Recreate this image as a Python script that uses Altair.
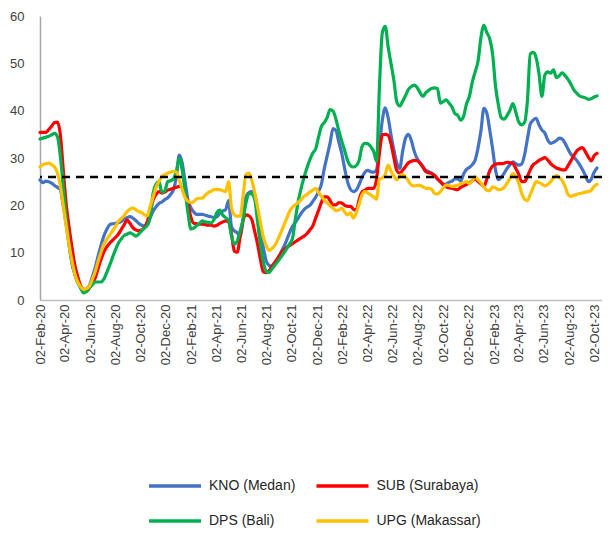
import altair as alt
import pandas as pd

start_date = "2020-02-02"
series_names = ["KNO (Medan)", "SUB (Surabaya)", "DPS (Bali)", "UPG (Makassar)"]
series_colors = ["#4472C4", "#FF0000", "#00B050", "#FFC000"]

kno = [
    25.4, 24.8, 25.1, 25.0, 24.7, 24.2, 23.8, 23.3, 20.0, 16.0,
    11.8, 7.8, 5.5, 3.7, 2.8, 2.2, 2.4, 3.0, 4.8, 6.8,
    9.2, 11.5, 13.5, 14.9, 15.9, 16.1, 16.2, 16.3, 16.6, 17.1,
    17.4, 17.6, 17.3, 16.8, 16.2, 15.8, 15.6, 16.3, 17.4, 18.8,
    19.7, 20.4, 20.7, 21.2, 21.6, 22.3, 23.3, 26.0, 30.6, 29.0,
    25.0, 21.2, 19.5, 18.6, 18.1, 18.1, 18.1, 17.9, 17.7, 17.6,
    17.4, 17.6, 18.3, 18.8, 19.1, 21.0, 15.5, 14.6, 14.2, 13.5,
    17.0, 21.8, 22.7, 22.9, 22.2, 19.0, 14.0, 11.0, 8.2, 7.3,
    6.9, 7.9, 8.8, 10.0, 11.2, 12.6, 14.2, 15.5, 16.4, 17.3,
    18.3, 19.1, 19.6, 20.0, 20.8, 21.7, 22.9, 24.5, 27.8, 30.5,
    33.2, 36.2, 35.8, 33.4, 31.0, 27.8, 25.0, 23.4, 22.9, 23.2,
    24.4, 25.9, 27.0, 27.4, 27.1, 27.0, 27.5, 32.5, 38.0, 40.6,
    38.5, 34.8, 31.6, 28.9, 27.8, 31.4, 34.2, 35.0, 33.7, 31.4,
    29.9, 29.0, 28.2, 27.4, 27.1, 26.8, 26.3, 25.6, 25.0, 24.4,
    24.5, 24.9, 25.1, 25.6, 25.6, 25.1, 26.6, 27.6, 28.0, 28.6,
    29.6, 32.2, 35.8, 40.5, 39.5, 36.0, 32.0, 27.5, 25.4, 25.9,
    26.8, 27.8, 28.6, 29.2, 28.8, 28.5, 28.7, 30.6, 34.0, 37.2,
    38.0, 38.4, 37.0, 35.9, 35.3, 33.8, 33.1, 33.3, 33.7, 34.2,
    34.0, 33.1, 31.9, 30.8, 30.2, 29.5, 28.6, 27.5, 26.3, 25.0,
    25.5, 27.0, 27.9,
]

sub = [
    35.4, 35.4, 35.4, 36.0, 36.7, 37.5, 37.6, 35.0, 27.6, 20.4,
    15.5, 11.2, 7.4, 5.0, 3.0, 2.1, 1.8, 2.5, 3.5, 4.6,
    6.6, 8.5, 10.1, 11.2, 12.0, 12.6, 13.2, 13.9, 14.9, 15.9,
    16.9, 16.2, 15.3, 14.8, 14.6, 14.8, 15.3, 16.6, 18.8, 21.2,
    22.3, 22.9, 22.6, 22.8, 23.2, 23.4, 23.6, 23.8, 24.0, 23.7,
    22.2, 20.4, 17.5, 16.2, 16.1, 16.0, 16.0, 15.9, 15.8, 15.8,
    15.6, 15.8, 16.2, 16.5, 16.7, 16.5, 14.0, 10.3, 10.1, 13.5,
    16.8, 18.0, 17.8, 17.0, 14.5, 11.8, 8.5, 5.9, 5.8, 6.2,
    7.2, 8.0, 8.9, 9.8, 10.6, 11.1, 11.5, 11.9, 12.3, 12.7,
    13.1, 13.5, 14.0, 14.8, 15.6, 17.3, 18.9, 20.6, 21.8, 21.8,
    21.0, 20.1, 20.1, 20.6, 20.5, 20.0, 19.8, 19.8, 19.2, 19.0,
    21.2, 22.8, 23.2, 23.6, 23.6, 23.6, 25.5, 31.0, 34.9, 35.0,
    34.8, 33.0, 30.0, 27.3, 26.8, 27.4, 28.2, 29.0, 29.3, 29.5,
    29.4, 28.9, 28.0, 27.1, 26.9, 26.7, 26.3, 25.6, 25.0, 24.4,
    23.9, 23.7, 23.6, 23.4, 23.3, 23.8, 24.1, 24.4, 24.7, 25.2,
    25.6, 25.0, 24.5, 24.1, 25.5, 27.3, 28.3, 28.7, 28.8, 28.8,
    28.9, 29.1, 29.0, 28.8, 27.8, 26.6, 25.0, 25.0, 26.1, 27.5,
    28.6, 29.0, 29.5, 29.8, 30.1, 29.6, 28.8, 28.3, 27.9, 27.7,
    27.5, 27.5, 28.4, 29.4, 30.5, 31.5, 32.0, 32.2, 31.3, 30.2,
    29.4, 30.5, 31.0,
]

dps = [
    34.0, 34.2, 34.4, 34.6, 34.9, 35.2, 34.5, 30.5, 24.0, 17.5,
    12.0, 8.0, 5.5, 3.7, 2.5, 1.5, 1.8, 2.6, 3.2, 3.8,
    3.8, 3.8, 4.4, 5.8, 7.3, 9.0, 10.6, 12.0, 12.9, 13.6,
    13.9, 14.2, 13.9, 13.5, 13.9, 14.6, 15.2, 15.8, 17.5, 22.6,
    24.5, 25.0, 22.8, 23.0, 25.0, 25.2, 25.6, 27.2, 29.9, 27.5,
    23.0, 18.5, 15.0, 15.2, 15.7, 16.2, 16.7, 16.5, 16.4, 16.3,
    17.0, 18.5, 19.0, 17.9, 17.4, 16.8, 13.5, 11.8, 12.5, 14.6,
    17.0, 20.5, 22.5, 22.4, 21.3, 16.5, 11.6, 8.0, 6.0, 5.8,
    6.6, 7.4, 8.2, 9.0, 9.9, 10.8, 11.8, 12.9, 17.0, 20.8,
    23.6, 25.9, 27.9, 29.6, 31.0, 31.9, 34.4, 36.7, 37.5, 38.6,
    40.2, 39.9, 38.2, 35.8, 33.6, 31.6, 29.5, 28.4, 28.1, 28.4,
    29.5, 32.4, 33.1, 33.0, 32.4, 31.4, 29.3, 45.0, 56.5, 57.8,
    53.5, 49.9, 46.3, 41.8, 41.0, 42.0, 43.2, 44.5, 45.1, 45.4,
    44.9, 43.8, 43.0, 43.8, 44.3, 44.7, 44.8, 44.7, 41.6, 41.9,
    42.3, 41.6, 40.8, 39.4, 39.0, 38.0, 38.8, 41.4, 43.0, 46.0,
    48.2, 50.5, 55.5, 58.0, 56.5, 55.2, 52.0, 45.2, 41.2, 38.5,
    38.2, 39.0, 40.1, 41.5, 39.7, 37.6, 37.0, 37.5, 42.0, 52.0,
    52.3, 51.2, 47.8, 43.0, 47.5, 48.2, 47.9, 48.6, 47.0, 47.4,
    48.0, 47.4, 46.6, 45.6, 44.4, 43.7, 43.1, 42.9, 42.7, 42.4,
    42.5, 42.9, 43.1,
]

upg = [
    28.1, 28.6, 28.8, 28.9, 28.6, 28.1, 26.9, 24.2, 20.0, 15.8,
    11.8, 8.3, 5.5, 3.8, 2.8, 2.2, 2.4, 2.9, 4.3, 5.9,
    8.1, 10.0, 11.8, 12.8, 13.7, 14.6, 15.5, 16.6, 17.2, 17.8,
    18.7, 19.2, 19.4, 19.1, 18.7, 18.5, 18.0, 17.8, 19.8, 21.8,
    23.8, 25.1, 26.1, 26.5, 26.8, 27.0, 27.2, 27.0, 25.3, 23.4,
    21.6, 20.9, 20.6, 20.8, 21.4, 21.5, 21.5, 22.2, 22.7, 23.0,
    23.3, 23.3, 23.3, 23.1, 22.9, 25.0, 19.5, 18.0, 17.7, 17.7,
    22.0, 26.5, 26.8, 25.3, 22.7, 19.6, 16.3, 13.3, 11.5, 10.5,
    10.9, 11.6, 12.8, 14.2, 15.7, 17.2, 18.7, 19.6, 20.1, 20.6,
    21.2, 21.9, 22.3, 22.8, 23.2, 23.6, 22.7, 21.9, 21.1, 20.5,
    19.9, 19.4, 18.9, 19.0, 19.4, 18.6, 18.0, 18.4, 17.3, 18.4,
    20.3, 22.2, 22.9, 22.6, 22.2, 21.8, 21.3, 25.5, 25.8, 26.5,
    28.5, 27.2, 26.1, 25.4, 26.3, 26.5, 26.0, 25.1, 24.3, 24.1,
    24.2, 24.2, 23.9, 23.6, 23.6, 23.4, 22.5, 22.4, 22.9, 23.7,
    24.3, 24.2, 24.0, 24.1, 24.3, 24.5, 24.8, 25.0, 24.6, 25.2,
    26.0, 25.4, 24.7, 23.9, 23.2, 23.1, 23.9, 23.7, 23.3, 23.4,
    23.8, 24.7, 25.7, 26.7, 26.0, 24.7, 22.6, 21.3, 21.0, 22.3,
    23.8, 25.0, 24.8, 24.5, 24.1, 24.4, 25.0, 25.8, 26.3, 25.9,
    25.2, 24.0, 22.3, 21.9, 22.1, 22.3, 22.5, 22.6, 22.8, 22.9,
    23.2, 24.0, 24.4,
]

target_level = 26

tick_dates = [
    "2020-02-02", "2020-04-02", "2020-06-02", "2020-08-02", "2020-10-02", "2020-12-02",
    "2021-02-02", "2021-04-02", "2021-06-02", "2021-08-02", "2021-10-02", "2021-12-02",
    "2022-02-02", "2022-04-02", "2022-06-02", "2022-08-02", "2022-10-02", "2022-12-02",
    "2023-02-02", "2023-04-02", "2023-06-02", "2023-08-02", "2023-10-02",
]
x_domain = ["2020-02-02", "2023-10-20"]
y_ticks = [0, 10, 20, 30, 40, 50, 60]


def ms(s):
    # milliseconds since epoch (UTC) for a yyyy-mm-dd string
    return int(pd.Timestamp(s, tz="UTC").value // 10**6)


dates = pd.date_range(start_date, periods=len(kno), freq="7D").strftime("%Y-%m-%d")
frames = []
for name, vals in zip(series_names, [kno, sub, dps, upg]):
    frames.append(pd.DataFrame({"date": list(dates), "value": vals, "series": name}))
df = pd.concat(frames, ignore_index=True)

FONT = "Liberation Sans"
TXT = "#404040"

x_enc = alt.X(
    "date:T",
    scale=alt.Scale(type="utc", domain=[ms(x_domain[0]), ms(x_domain[1])], nice=False),
    axis=alt.Axis(
        values=[ms(s) for s in tick_dates],
        labelExpr="utcFormat(datum.value, '%d-%b-%y')",
        labelAngle=270,
        labelFontSize=13,
        labelFont=FONT,
        labelColor=TXT,
        labelPadding=4,
        labelFlush=False,
        labelBound=False,
        ticks=False,
        tickSize=0,
        grid=False,
        domainColor="#bfbfbf",
        domainWidth=1.5,
        title=None,
        labelOverlap=False,
    ),
)
y_enc = alt.Y(
    "value:Q",
    scale=alt.Scale(domain=[0, 60], nice=False, zero=True),
    axis=alt.Axis(
        values=y_ticks,
        labelFontSize=13,
        labelFont=FONT,
        labelColor=TXT,
        labelPadding=16,
        ticks=False,
        tickSize=0,
        grid=False,
        domainColor="#a6a6a6",
        domainWidth=1.5,
        title=None,
    ),
)
color_enc = alt.Color(
    "series:N",
    scale=alt.Scale(domain=series_names, range=series_colors),
    sort=series_names,
    legend=alt.Legend(
        title=None,
        orient="none",
        direction="horizontal",
        legendX=107,
        legendY=442,
        columns=2,
        symbolType="stroke",
        symbolSize=2704,
        symbolStrokeWidth=3.5,
        labelFont=FONT,
        labelFontSize=14,
        labelColor="#262626",
        labelOffset=6,
        columnPadding=13.5,
        rowPadding=-3,
    ),
)

base = alt.Chart(df).encode(x=x_enc, y=y_enc, color=color_enc)
layers = [
    base.transform_filter(alt.datum.series == name).mark_line(
        strokeWidth=3.2, interpolate="monotone", strokeJoin="round", strokeCap="round"
    )
    for name in series_names
]

rule = alt.Chart(pd.DataFrame({"level": [target_level]})).mark_rule(
    color="black", strokeWidth=2.5, strokeDash=[8, 6]
).encode(y=alt.Y("level:Q"))

chart = alt.layer(*layers, rule).properties(
    width=562,
    height=284,
    padding={"left": 32, "top": 8, "right": 0, "bottom": 228},
    autosize=alt.AutoSizeParams(type="none"),
).configure_view(stroke=None)

chart.save("out.html", embed_options={"renderer": "svg", "actions": False})
